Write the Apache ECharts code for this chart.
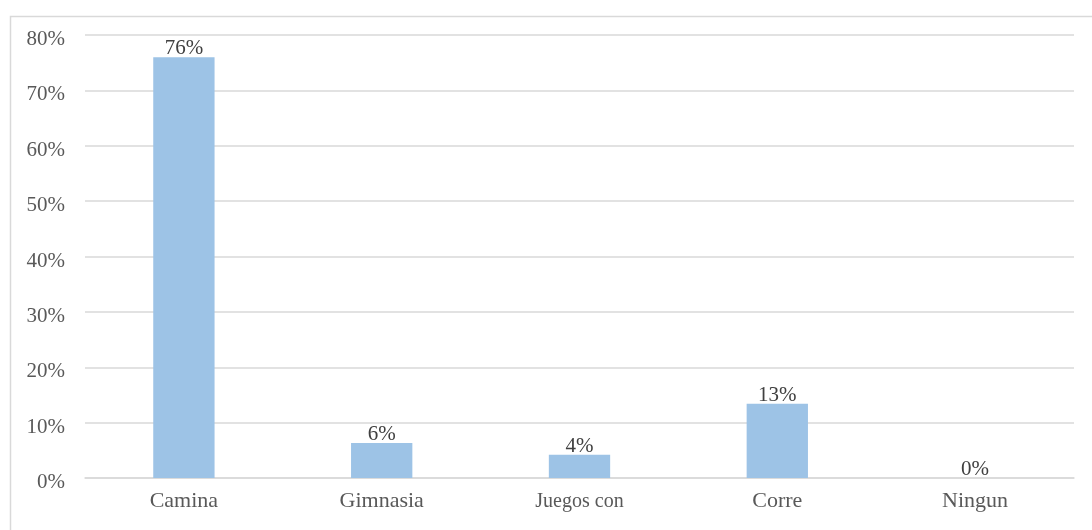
<!DOCTYPE html>
<html>
<head>
<meta charset="utf-8">
<script src="https://cdn.jsdelivr.net/npm/echarts@6/dist/echarts.min.js"></script>
<style>html,body{margin:0;padding:0;background:#fff}#c{width:1092px;height:530px}</style>
</head>
<body>
<div id="c"></div>
<script>
const categories = ['Camina', 'Gimnasia', 'Juegos con', 'Corre', 'Ningun'];
const values = [76.0, 6.3, 4.2, 13.4, 0];
const yTicks = [0, 10, 20, 30, 40, 50, 60, 70, 80];

const chart = echarts.init(document.getElementById('c'), null, {renderer: 'canvas'});
const font = 'Liberation Serif';
chart.setOption({
  animation: false,
  backgroundColor: '#fff',
  graphic: [{
    type: 'rect', left: 8, top: 14, z: -10,
    shape: {x: 0.5, y: 0.5, width: 1200, height: 700},
    style: {fill: 'none', stroke: '#d9d9d9', lineWidth: 1.5}
  }],
  grid: {left: 85, right: 18, top: 35, bottom: 52, containLabel: false},
  xAxis: {
    type: 'category',
    data: categories,
    axisLine: {lineStyle: {color: '#d9d9d9', width: 1.5}},
    axisTick: {show: false},
    axisLabel: {fontFamily: font, fontSize: 22, color: '#595959', margin: 12,
      formatter: v => v === 'Juegos con' ? '{s|' + v + '}' : v,
      rich: {s: {fontFamily: font, fontSize: 20, color: '#595959', padding: [2, 0, 0, 0]}}
    }
  },
  yAxis: {
    type: 'value',
    min: yTicks[0], max: yTicks[yTicks.length - 1], interval: 10,
    axisLine: {show: false},
    axisTick: {show: false},
    splitLine: {lineStyle: {color: '#d9d9d9', width: 1.5}},
    axisLabel: {fontFamily: font, fontSize: 21, color: '#595959', margin: 20,
      verticalAlign: 'top', lineHeight: 9,
      formatter: v => v + '%'}
  },
  series: [{
    type: 'bar',
    data: values,
    barWidth: '31%',
    itemStyle: {color: '#9DC3E6'},
    label: {
      show: true, position: 'top', distance: -2,
      fontFamily: font, fontSize: 21, color: '#404040',
      formatter: p => Math.round(p.value) + '%'
    }
  }]
});
</script>
</body>
</html>
